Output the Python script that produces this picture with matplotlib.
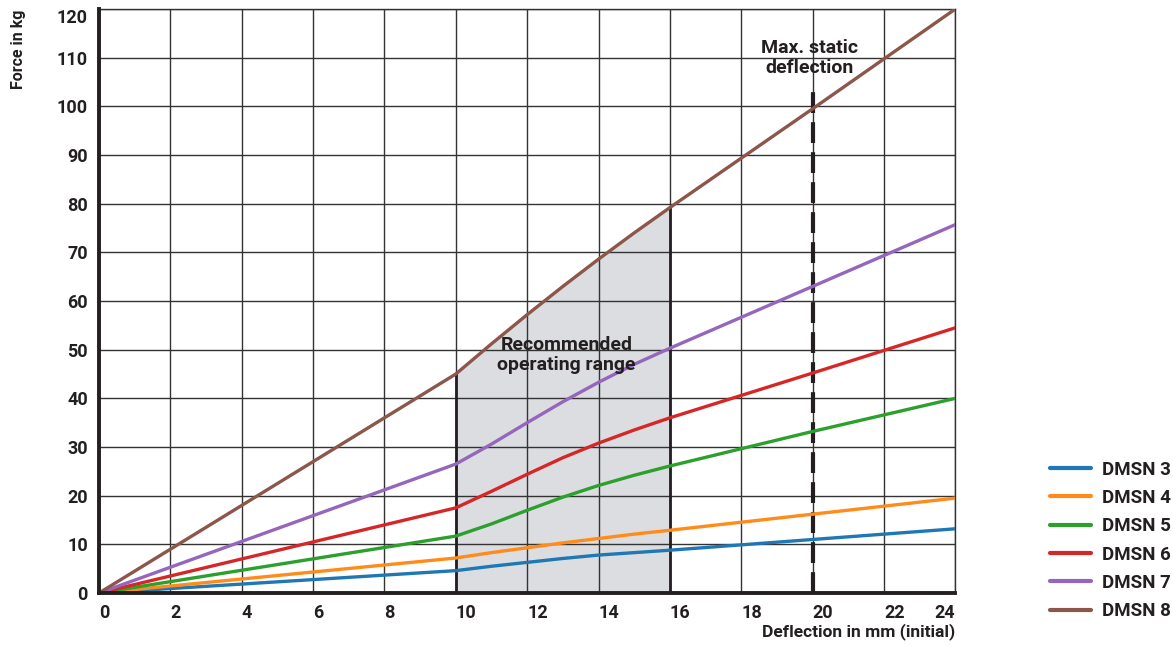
import matplotlib.pyplot as plt

plt.rcParams["font.family"] = ["Roboto", "DejaVu Sans"]
plt.rcParams["font.weight"] = "bold"

# values
deflection = [0, 10, 11, 12, 13, 14, 15, 16, 20, 24]
series = {
    "DMSN 3": [0, 4.6, 5.5, 6.3, 7.1, 7.8, 8.3, 8.8, 11.0, 13.2],
    "DMSN 4": [0, 7.2, 8.3, 9.3, 10.3, 11.2, 12.1, 12.9, 16.2, 19.5],
    "DMSN 5": [0, 11.7, 14.2, 17.0, 19.7, 22.1, 24.2, 26.1, 33.2, 40.0],
    "DMSN 6": [0, 17.5, 20.9, 24.4, 27.8, 30.8, 33.5, 36.0, 45.2, 54.5],
    "DMSN 7": [0, 26.5, 30.6, 35.0, 39.3, 43.3, 47.0, 50.3, 63.0, 75.7],
    "DMSN 8": [0, 45.0, 51.2, 57.2, 63.0, 68.6, 74.0, 79.2, 99.5, 120.0],
}
colors = ["#1f77b4", "#ff8c1a", "#2ca02c", "#d62728", "#9467bd", "#8c564b"]
x_ticks = list(range(0, 25, 2))
y_ticks = list(range(0, 121, 10))
range_start, range_end = 10, 16
max_static = 20

text_color = "#231f20"

fig = plt.figure(figsize=(11.73, 6.46), dpi=100)
ax = fig.add_axes([0.0844, 0.082, 0.73, 0.904])
ax.set_xlim(0, 24)
ax.set_ylim(0, 120)

# grid
for x in x_ticks:
    ax.axvline(x, color="#333333", lw=1, zorder=1)
for y in y_ticks:
    ax.axhline(y, color="#333333", lw=1, zorder=1)

# recommended operating range, filled under DMSN 8
top = series["DMSN 8"]
xs = [d for d in deflection if range_start <= d <= range_end]
ys = [v for d, v in zip(deflection, top) if range_start <= d <= range_end]
ax.fill_between(xs, 0, ys, color="#dcdde0", zorder=0.5)
ax.plot([range_start, range_start], [0, ys[0]], color=text_color, lw=2, zorder=2)
ax.plot([range_end, range_end], [0, ys[-1]], color=text_color, lw=2, zorder=2)

for (name, vals), c in zip(series.items(), colors):
    ax.plot(deflection, vals, color=c, lw=2.4, label=name, zorder=3,
            solid_capstyle="round")

# max static deflection
ax.plot([max_static, max_static], [0, 103], color=text_color, lw=3,
        linestyle=(0, (5, 2.2)), zorder=2.5)
ax.text(19.9, 110, "Max. static\ndeflection", ha="center", va="center",
        fontsize=14, fontweight="bold", color=text_color, linespacing=1.15,
        zorder=4)
ax.text(13.1, 49, "Recommended\noperating range", ha="center", va="center",
        fontsize=14, fontweight="bold", color=text_color, linespacing=1.15,
        zorder=4)

# spines
for s in ["top", "right"]:
    ax.spines[s].set_linewidth(1)
    ax.spines[s].set_color("#333333")
for s in ["left", "bottom"]:
    ax.spines[s].set_linewidth(2.8)
    ax.spines[s].set_color(text_color)
    ax.spines[s].set_zorder(5)

ax.set_xticks(x_ticks)
ax.set_yticks(y_ticks)
ax.tick_params(length=0, labelsize=13, colors=text_color, pad=8)
for lbl in ax.get_xticklabels():
    lbl.set_horizontalalignment("left")
    lbl.set_fontweight("bold")
ax.get_xticklabels()[-1].set_horizontalalignment("right")
for lbl in ax.get_yticklabels():
    lbl.set_fontweight("bold")
ax.get_yticklabels()[-1].set_verticalalignment("top")

fig.text(0.8142, 0.01, "Deflection in mm (initial)", ha="right", va="bottom",
         fontsize=12.5, fontweight="bold", color=text_color)
fig.text(0.016, 0.985, "Force in kg", rotation=90, ha="center", va="top",
         fontsize=11.5, fontweight="bold", color=text_color)

leg = fig.legend(*ax.get_legend_handles_labels(), loc="lower right",
                 bbox_to_anchor=(0.998, 0.04), frameon=False,
                 prop={"weight": "bold", "size": 13.5}, handlelength=2.2,
                 labelspacing=0.55, handletextpad=0.55, borderaxespad=0,
                 borderpad=0)
for t in leg.get_texts():
    t.set_color(text_color)
for h in leg.get_lines():
    h.set_linewidth(3)
    h.set_solid_capstyle("round")

fig.savefig("out.png", dpi=100)
